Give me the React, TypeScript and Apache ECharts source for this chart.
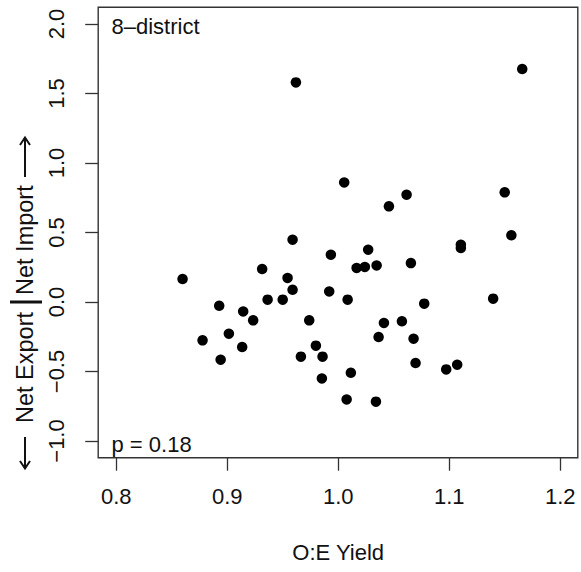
import React, { useEffect, useRef } from "react";
import * as echarts from "echarts";

// O:E Yield (x) vs Net Import/Export (y), 8-district
const xValues = [
  0.8598, 0.8778, 0.8928, 0.8941, 0.9015, 0.9135, 0.9144, 0.9234, 0.9315, 0.9364,
  0.95, 0.9544, 0.9589, 0.9589, 0.9619, 0.9664, 0.9739, 0.9799, 0.9853, 0.9859,
  0.9919, 0.9934, 1.0054, 1.0076, 1.0085, 1.0114, 1.0166, 1.024, 1.027, 1.034,
  1.0346, 1.0364, 1.0412, 1.0457, 1.0574, 1.0616, 1.0655, 1.0679, 1.0697, 1.0775,
  1.0973, 1.1072, 1.1105, 1.1105, 1.1396, 1.15, 1.156, 1.1658,
];
const yValues = [
  0.165, -0.276, -0.027, -0.415, -0.228, -0.324, -0.068, -0.132, 0.237, 0.017,
  0.017, 0.173, 0.088, 0.448, 1.58, -0.393, -0.132, -0.314, -0.55, -0.393,
  0.076, 0.34, 0.86, -0.701, 0.017, -0.509, 0.245, 0.252, 0.376, -0.717,
  0.263, -0.252, -0.151, 0.688, -0.139, 0.772, 0.28, -0.264, -0.439, -0.012,
  -0.485, -0.451, 0.412, 0.388, 0.024, 0.789, 0.48, 1.676,
];
const xTickRange = [0.8, 1.2];
const yTickRange = [-1.0, 2.0];
const panelLabel = "8\u2013district";
const pLabel = "p = 0.18";
const xTitle = "O:E Yield";
const yTitleTop = "Net Import";
const yTitleBottom = "Net Export";

const FONT = "'Liberation Sans', Arial, Helvetica, sans-serif";
const FS = 22;
const FS_Y = 23.5;
const TXT = "#111";

export default function App() {
  const ref = useRef<HTMLDivElement>(null);
  useEffect(() => {
    if (!ref.current) return;
    const chart = echarts.init(ref.current, undefined, { renderer: "svg" });
    const fmt = (v: number) => v.toFixed(1).replace("-", "\u2212");
    // box edges
    const L = 98.2, R = 577.8, T = 7.3, B = 457.7;
    const ax = 24.5;
    const option: any = {
      animation: false,
      backgroundColor: "#ffffff",
      grid: { left: 116.2, right: 20.8, top: 24, bottom: 131 },
      xAxis: {
        type: "value",
        min: xTickRange[0],
        max: xTickRange[1],
        interval: 0.1,
        offset: 16.7,
        axisLine: { show: false, onZero: false },
        axisTick: { show: true, length: 13, lineStyle: { color: "#333", width: 1.3 } },
        splitLine: { show: false },
        axisLabel: {
          formatter: fmt,
          margin: 28,
          fontSize: FS,
          fontFamily: FONT,
          color: TXT,
        },
        name: xTitle,
        nameLocation: "middle",
        nameGap: 84,
        nameTextStyle: { fontSize: FS, fontFamily: FONT, color: TXT },
      },
      yAxis: {
        type: "value",
        min: yTickRange[0],
        max: yTickRange[1],
        interval: 0.5,
        offset: 18,
        axisLine: { show: false, onZero: false },
        axisTick: { show: true, length: 13, lineStyle: { color: "#333", width: 1.3 } },
        splitLine: { show: false },
        axisLabel: {
          formatter: fmt,
          rotate: 90,
          margin: 31,
          fontSize: FS,
          fontFamily: FONT,
          color: TXT,
        },
      },
      graphic: [
        {
          type: "rect",
          shape: { x: L, y: T, width: R - L, height: B - T },
          style: { fill: "none", stroke: "#333", lineWidth: 1.4 },
          silent: true,
        },
        {
          type: "text",
          x: 111.5,
          y: 26.5,
          style: {
            text: panelLabel,
            fontSize: FS,
            fontFamily: FONT,
            fill: TXT,
            textAlign: "left",
            textVerticalAlign: "middle",
          },
        },
        {
          type: "text",
          x: 111.5,
          y: 444.5,
          style: {
            text: pLabel,
            fontSize: FS,
            fontFamily: FONT,
            fill: TXT,
            textAlign: "left",
            textVerticalAlign: "middle",
          },
        },
        {
          type: "text",
          x: ax,
          y: 295,
          rotation: Math.PI / 2,
          style: {
            text: yTitleTop,
            fontSize: FS_Y,
            fontFamily: FONT,
            fill: TXT,
            textAlign: "left",
            textVerticalAlign: "middle",
          },
        },
        {
          type: "text",
          x: ax,
          y: 312,
          rotation: Math.PI / 2,
          style: {
            text: yTitleBottom,
            fontSize: FS_Y,
            fontFamily: FONT,
            fill: TXT,
            textAlign: "right",
            textVerticalAlign: "middle",
          },
        },
        // center bar
        {
          type: "line",
          shape: { x1: 10, y1: 302, x2: 42, y2: 302 },
          style: { stroke: "#111", lineWidth: 3 },
        },
        // up arrow
        {
          type: "line",
          shape: { x1: 25, y1: 177, x2: 25, y2: 138 },
          style: { stroke: "#111", lineWidth: 2 },
        },
        {
          type: "polyline",
          shape: { points: [[20, 145], [25, 137.5], [30, 145]] },
          style: { stroke: "#111", lineWidth: 2, fill: "none" },
        },
        // down arrow
        {
          type: "line",
          shape: { x1: 25, y1: 437, x2: 25, y2: 468 },
          style: { stroke: "#111", lineWidth: 2 },
        },
        {
          type: "polyline",
          shape: { points: [[20, 461], [25, 468.5], [30, 461]] },
          style: { stroke: "#111", lineWidth: 2, fill: "none" },
        },
      ],
      series: [
        {
          type: "scatter",
          data: xValues.map((x, i) => [x, yValues[i]]),
          symbol: "circle",
          symbolSize: 10.5,
          itemStyle: { color: "#000", opacity: 1 },
          clip: false,
        },
      ],
    };
    chart.setOption(option);
    return () => chart.dispose();
  }, []);
  return (
    <div
      ref={ref}
      style={{ position: "absolute", left: 0, top: 0, width: 581, height: 572 }}
    />
  );
}
